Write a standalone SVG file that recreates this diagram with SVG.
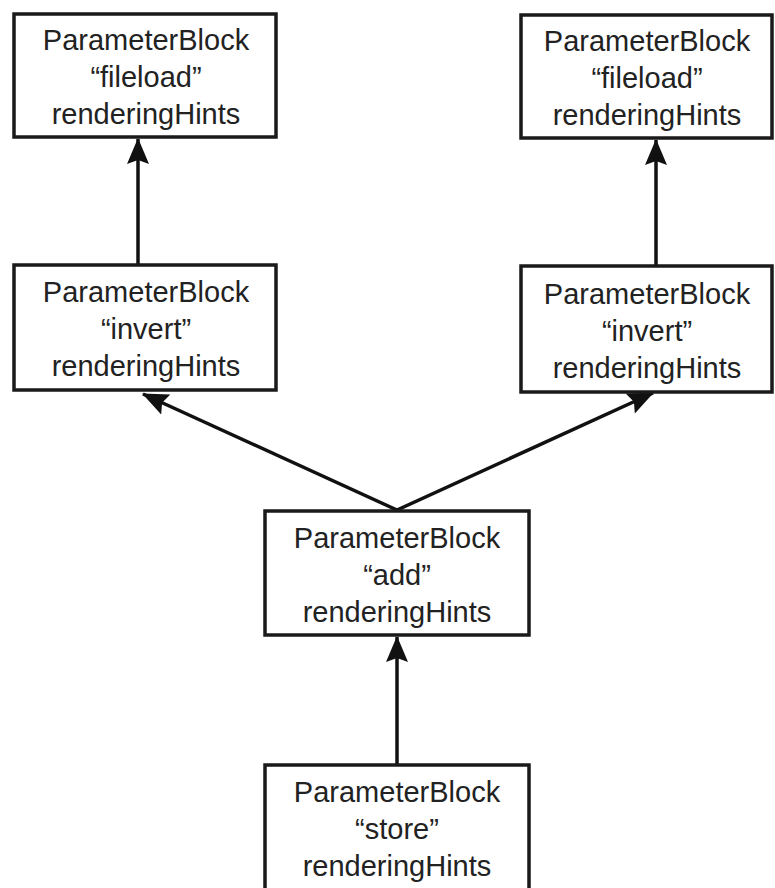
<svg xmlns="http://www.w3.org/2000/svg" width="775" height="888" viewBox="0 0 775 888">
  <style>
    .box { fill: #ffffff; stroke: #1a1a1a; stroke-width: 3.5; }
    .lbl { font-family: "Liberation Sans", Arial, sans-serif; font-size: 29px; fill: #222222; text-anchor: middle; }
    .edge { stroke: #111111; stroke-width: 3.5; fill: none; marker-end: url(#head); }
  </style>
  <defs>
    <marker id="head" markerUnits="userSpaceOnUse" markerWidth="26" markerHeight="24" viewBox="0 0 26 24" refX="25" refY="12" orient="auto">
      <path d="M0,1 L26,12 L0,23 L4,12 Z" fill="#111111"/>
    </marker>
  </defs>
  <rect width="775" height="888" fill="#ffffff"/>

  <g id="connectors">
    <line class="edge" x1="138" y1="265" x2="138" y2="139"/>
    <line class="edge" x1="656" y1="266" x2="656" y2="140"/>
    <line class="edge" x1="397" y1="510" x2="143" y2="394"/>
    <line class="edge" x1="397" y1="510" x2="653" y2="393"/>
    <line class="edge" x1="397" y1="765" x2="397" y2="637"/>
  </g>

  <g id="fileload-left">
    <rect class="box" x="14" y="14" width="262" height="123"/>
    <text class="lbl" x="146" y="50">ParameterBlock</text>
    <text class="lbl" x="146" y="87">“fileload”</text>
    <text class="lbl" x="146" y="124">renderingHints</text>
  </g>

  <g id="fileload-right">
    <rect class="box" x="521" y="15" width="251" height="123"/>
    <text class="lbl" x="647" y="51">ParameterBlock</text>
    <text class="lbl" x="647" y="88">“fileload”</text>
    <text class="lbl" x="647" y="125">renderingHints</text>
  </g>

  <g id="invert-left">
    <rect class="box" x="14" y="265" width="262" height="125"/>
    <text class="lbl" x="146" y="302">ParameterBlock</text>
    <text class="lbl" x="146" y="339">“invert”</text>
    <text class="lbl" x="146" y="376">renderingHints</text>
  </g>

  <g id="invert-right">
    <rect class="box" x="521" y="266" width="251" height="126"/>
    <text class="lbl" x="647" y="304">ParameterBlock</text>
    <text class="lbl" x="647" y="341">“invert”</text>
    <text class="lbl" x="647" y="378">renderingHints</text>
  </g>

  <g id="add">
    <rect class="box" x="265" y="511" width="264" height="124"/>
    <text class="lbl" x="397" y="548">ParameterBlock</text>
    <text class="lbl" x="397" y="585">“add”</text>
    <text class="lbl" x="397" y="622">renderingHints</text>
  </g>

  <g id="store">
    <rect class="box" x="265" y="765" width="264" height="130"/>
    <text class="lbl" x="397" y="802">ParameterBlock</text>
    <text class="lbl" x="397" y="839">“store”</text>
    <text class="lbl" x="397" y="876">renderingHints</text>
  </g>
</svg>
